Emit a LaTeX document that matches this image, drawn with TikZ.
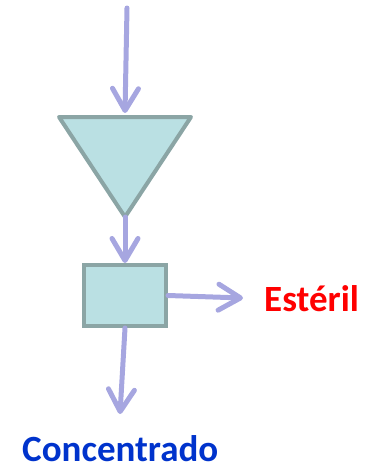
\documentclass[tikz,border=0pt]{standalone}
\usepackage{fontspec}
\setmainfont{Carlito}
\usetikzlibrary{arrows.meta}
\definecolor{flow}{HTML}{A6A6E0}
\definecolor{unitfill}{HTML}{BAE0E3}
\definecolor{unitedge}{HTML}{8BA5A5}
\definecolor{wastered}{HTML}{FF0000}
\definecolor{concblue}{HTML}{0033CC}
\tikzset{
  stream/.style={draw=flow, line width=5pt, line cap=round,
    -{Straight Barb[length=22pt,width=26pt,round]}},
  unit/.style={draw=unitedge, fill=unitfill, line width=4pt},
  label/.style={font=\bfseries\fontsize{37}{40}\selectfont, inner sep=0pt}
}
\begin{document}
\begin{tikzpicture}[x=1pt,y=-1pt]
\useasboundingbox (0,0) rectangle (370,466);
% feed
\coordinate (feed) at (127,8);
% cyclone / triangle unit
\coordinate (tl) at (59,117);
\coordinate (tr) at (191,117);
\coordinate (tb) at (125,217);
\coordinate (tt) at (125,113);
\draw[unit, line join=round] (tl) -- (tr) -- (tb) -- cycle;
% box unit
\node[unit, rectangle, minimum width=82pt, minimum height=61pt, inner sep=0pt] (box) at (125,295.5) {};
% labels
\node[label, text=wastered, anchor=base west] (est) at (264,311) {Estéril};
\node[label, text=concblue, anchor=base west] (conc) at (22,461.5) {Concentrado};
\coordinate (estin) at (243,298);
\coordinate (concin) at (120,414);
% streams
\draw[stream] (feed) -- (tt);
\draw[stream] (tb) -- (box.north);
\draw[stream] (box.east) -- (estin);
\draw[stream] (box.south) -- (concin);
\end{tikzpicture}
\end{document}
